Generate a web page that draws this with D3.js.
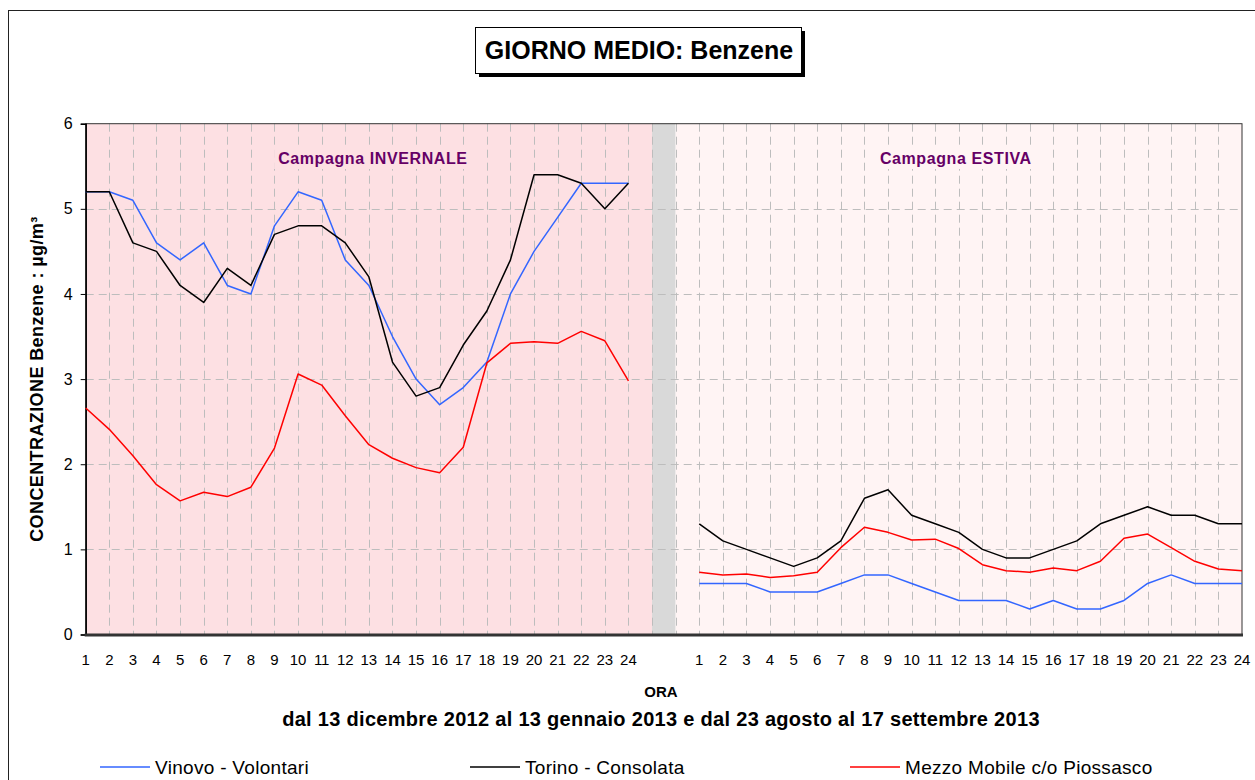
<!DOCTYPE html>
<html>
<head>
<meta charset="utf-8">
<script src="https://cdn.jsdelivr.net/npm/d3@7"></script>
<style>
  body { margin: 0; background: #fff; }
  text { font-family: "Liberation Sans", Arial, sans-serif; }
</style>
</head>
<body>
<div id="chart"></div>
<script>
// hours of the day, shown twice (winter and summer campaign)
var hours = ["1","2","3","4","5","6","7","8","9","10","11","12","13","14","15","16","17","18","19","20","21","22","23","24"]

// Vinovo - Volontari
var vinovoInverno = [5.2, 5.2, 5.1, 4.6, 4.4, 4.6, 4.1, 4.0, 4.8, 5.2, 5.1, 4.4, 4.1, 3.5, 3.0, 2.7, 2.9, 3.2, 4.0, 4.5, 4.9, 5.3, 5.3, 5.3]
var vinovoEstate  = [0.6, 0.6, 0.6, 0.5, 0.5, 0.5, 0.6, 0.7, 0.7, 0.6, 0.5, 0.4, 0.4, 0.4, 0.3, 0.4, 0.3, 0.3, 0.4, 0.6, 0.7, 0.6, 0.6, 0.6]
// Torino - Consolata
var torinoInverno = [5.2, 5.2, 4.6, 4.5, 4.1, 3.9, 4.3, 4.1, 4.7, 4.8, 4.8, 4.6, 4.2, 3.2, 2.8, 2.9, 3.4, 3.8, 4.4, 5.4, 5.4, 5.3, 5.0, 5.3]
var torinoEstate  = [1.3, 1.1, 1.0, 0.9, 0.8, 0.9, 1.1, 1.6, 1.7, 1.4, 1.3, 1.2, 1.0, 0.9, 0.9, 1.0, 1.1, 1.3, 1.4, 1.5, 1.4, 1.4, 1.3, 1.3]
// Mezzo Mobile c/o Piossasco
var piossascoInverno = [2.66, 2.41, 2.1, 1.76, 1.57, 1.67, 1.62, 1.73, 2.19, 3.06, 2.93, 2.57, 2.23, 2.07, 1.96, 1.9, 2.2, 3.19, 3.42, 3.44, 3.42, 3.56, 3.45, 2.98]
var piossascoEstate  = [0.73, 0.7, 0.71, 0.67, 0.69, 0.73, 1.02, 1.26, 1.2, 1.11, 1.12, 1.01, 0.82, 0.75, 0.73, 0.78, 0.75, 0.86, 1.13, 1.18, 1.02, 0.86, 0.77, 0.75]

var seriesNames = ["Vinovo - Volontari", "Torino - Consolata", "Mezzo Mobile c/o Piossasco"]
var seriesColors = ["#3366ff", "#000000", "#ff0000"]
var yTicks = [0, 1, 2, 3, 4, 5, 6]

var W = 1255, H = 780
var plot = {left: 85.7, right: 1242, top: 123.7, bottom: 634.5}

// category positions: 24 winter hours, 2 empty slots, 24 summer hours
var gapSlots = 2
var nCat = hours.length * 2 + gapSlots

var svg = d3.select("#chart").append("svg")
    .attr("width", W)
    .attr("height", H)

// outer frame
svg.append("rect")
    .attr("x", 8.5).attr("y", 10.5)
    .attr("width", W + 20).attr("height", H + 20)
    .attr("fill", "#fff")
    .attr("stroke", "#222")
    .attr("stroke-width", 1)

var x = d3.scaleLinear().domain([0, nCat - 1]).range([plot.left, plot.right])
var y = d3.scaleLinear().domain([0, 6]).range([plot.bottom, plot.top])

var winterStart = 0
var summerStart = hours.length + gapSlots

// background bands
svg.append("rect")
    .attr("x", x(0)).attr("y", y(6))
    .attr("width", x(hours.length) - x(0)).attr("height", y(0) - y(6))
    .attr("fill", "#fde0e3")
svg.append("rect")
    .attr("x", x(hours.length)).attr("y", y(6))
    .attr("width", x(hours.length + 1) - x(hours.length)).attr("height", y(0) - y(6))
    .attr("fill", "#d9d9d9")
svg.append("rect")
    .attr("x", x(hours.length + 1)).attr("y", y(6))
    .attr("width", x(nCat - 1) - x(hours.length + 1)).attr("height", y(0) - y(6))
    .attr("fill", "#fff4f4")

// grid lines
var grid = svg.append("g").attr("stroke", "#bdbdbd").attr("stroke-width", 1)
    .attr("stroke-dasharray", "8,5")
d3.range(1, nCat - 1).forEach(function (i) {
    grid.append("line")
        .attr("x1", Math.round(x(i)) + 0.5).attr("x2", Math.round(x(i)) + 0.5)
        .attr("y1", y(6)).attr("y2", y(0))
})
yTicks.slice(1, -1).forEach(function (v) {
    grid.append("line")
        .attr("x1", x(0)).attr("x2", x(nCat - 1))
        .attr("y1", Math.round(y(v)) + 0.5).attr("y2", Math.round(y(v)) + 0.5)
})

// campaign labels with a box that hides the grid behind
function campaignLabel(cx, label, bg) {
    var g = svg.append("g")
    var t = g.append("text")
        .attr("x", cx).attr("y", 164)
        .attr("text-anchor", "middle")
        .attr("font-size", "16px")
        .attr("font-weight", "bold")
        .attr("letter-spacing", "0.6px")
        .attr("fill", "#660066")
        .text(label)
    var bb = t.node().getBBox()
    g.insert("rect", "text")
        .attr("x", bb.x - 4).attr("y", bb.y - 2)
        .attr("width", bb.width + 8).attr("height", bb.height + 4)
        .attr("fill", bg)
}
campaignLabel((x(0) + x(hours.length)) / 2 + 4, "Campagna INVERNALE", "#fde0e3")
campaignLabel((x(hours.length + 1) + x(nCat - 1)) / 2 - 3, "Campagna ESTIVA", "#fff4f4")

// plot border
svg.append("rect")
    .attr("x", x(0)).attr("y", y(6))
    .attr("width", x(nCat - 1) - x(0)).attr("height", y(0) - y(6))
    .attr("fill", "none")
    .attr("stroke", "#333")
    .attr("stroke-width", 1)

// axes
var yAxis = d3.axisLeft(y).tickValues(yTicks).tickSize(5).tickPadding(8).tickFormat(d3.format("d"))
var gy = svg.append("g").attr("transform", "translate(" + x(0) + ",0)").call(yAxis)
gy.select(".domain").attr("stroke", "#000").attr("stroke-width", 1.5)
gy.selectAll(".tick line").attr("stroke", "#000")
gy.selectAll("text").attr("font-size", "16px").attr("fill", "#000")
    .style("font-family", "'Liberation Sans', Arial, sans-serif")

svg.append("line")
    .attr("x1", x(0) - 1).attr("x2", x(nCat - 1) + 1)
    .attr("y1", y(0) + 0.5).attr("y2", y(0) + 0.5)
    .attr("stroke", "#333").attr("stroke-width", 3)

// x tick labels
var xLabels = svg.append("g")
hours.forEach(function (h, i) {
    xLabels.append("text").attr("x", x(winterStart + i)).attr("y", 665)
        .attr("text-anchor", "middle").attr("font-size", "15px").text(h)
    xLabels.append("text").attr("x", x(summerStart + i)).attr("y", 665)
        .attr("text-anchor", "middle").attr("font-size", "15px").text(h)
})

// series lines
var line = d3.line()
    .x(function (d) { return x(d.i) })
    .y(function (d) { return y(d.v) })

function toPoints(values, start) {
    return values.map(function (v, k) { return {i: start + k, v: v} })
}

var series = [
    [vinovoInverno, vinovoEstate],
    [torinoInverno, torinoEstate],
    [piossascoInverno, piossascoEstate]
]
series.forEach(function (s, idx) {
    [toPoints(s[0], winterStart), toPoints(s[1], summerStart)].forEach(function (pts) {
        svg.append("path")
            .datum(pts)
            .attr("d", line)
            .attr("fill", "none")
            .attr("stroke", seriesColors[idx])
            .attr("stroke-width", 1.5)
            .attr("stroke-linejoin", "round")
    })
})

// y axis title
svg.append("text")
    .attr("transform", "translate(43," + (y(0) + y(6)) / 2 + ") rotate(-90)")
    .attr("text-anchor", "middle")
    .attr("font-size", "18px")
    .attr("font-weight", "bold")
    .attr("letter-spacing", "0.4px")
    .text("CONCENTRAZIONE Benzene :  µg/m³")

// x axis titles
svg.append("text")
    .attr("x", 661).attr("y", 697)
    .attr("text-anchor", "middle")
    .attr("font-size", "15px").attr("font-weight", "bold")
    .text("ORA")
svg.append("text")
    .attr("x", 661).attr("y", 726)
    .attr("text-anchor", "middle")
    .attr("font-size", "20px").attr("font-weight", "bold")
    .attr("letter-spacing", "0.3px")
    .text("dal 13 dicembre 2012 al 13 gennaio 2013 e dal 23 agosto al 17 settembre 2013")

// title box with shadow
var tb = {x: 475, y: 27, w: 326, h: 46}
svg.append("rect")
    .attr("x", tb.x + 4).attr("y", tb.y + 4).attr("width", tb.w).attr("height", tb.h)
    .attr("fill", "#000")
svg.append("rect")
    .attr("x", tb.x + 0.5).attr("y", tb.y + 0.5).attr("width", tb.w).attr("height", tb.h)
    .attr("fill", "#fff").attr("stroke", "#000").attr("stroke-width", 1)
svg.append("text")
    .attr("x", tb.x + tb.w / 2 + 1).attr("y", tb.y + 32)
    .attr("text-anchor", "middle")
    .attr("font-size", "25px").attr("font-weight", "bold")
    .text("GIORNO MEDIO: Benzene")

// legend
var legendX = [100, 470, 850]
var legend = svg.append("g")
seriesNames.forEach(function (name, i) {
    legend.append("line")
        .attr("x1", legendX[i]).attr("x2", legendX[i] + 50)
        .attr("y1", 767).attr("y2", 767)
        .attr("stroke", seriesColors[i]).attr("stroke-width", 1.5)
    legend.append("text")
        .attr("x", legendX[i] + 55).attr("y", 774)
        .attr("font-size", "19px")
        .attr("letter-spacing", "0.3px")
        .text(name)
})
</script>
</body>
</html>
